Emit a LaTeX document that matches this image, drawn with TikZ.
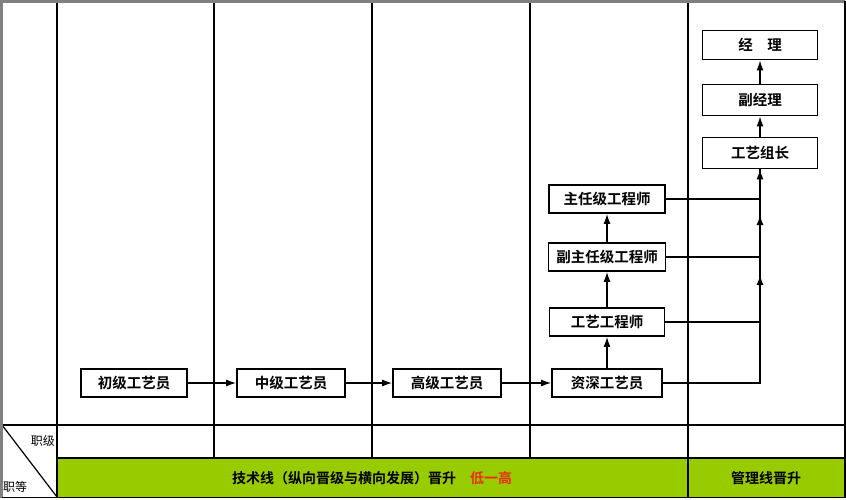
\documentclass[tikz,border=0pt]{standalone}
\usepackage{fontspec}
\usetikzlibrary{arrows.meta}
\setmainfont{Noto Sans CJK SC}[BoldFont={Noto Sans CJK SC Bold}]
\definecolor{lgreen}{RGB}{153,204,0}
\definecolor{lred}{RGB}{235,45,20}
\tikzset{job/.style = {draw, line width = 1.8, fill = white, inner sep = 0,
    minimum height = 28, font = \bfseries\fontsize{14.5}{14.5}\selectfont}}
\tikzset{link/.style = {line width = 1.3, -{Latex[length=10pt, width=7pt]}}}
\tikzset{grid/.style = {line width = 1.2}}

\begin{document}
\begin{tikzpicture}[x=1pt, y=-1pt]
    \useasboundingbox (0, 0) rectangle (846, 500);
    \fill [lgreen] (57, 458) rectangle (845, 497);
    \draw [grid] (2, 425) -- (845, 425);
    \draw [grid] (57, 458) -- (845, 458);
    \foreach \x in {214, 372, 530}
        \draw [grid] (\x, 2) -- (\x, 458);
    \draw [grid] (57, 2) -- (57, 497);
    \draw [grid] (688, 2) -- (688, 497);
    \draw [grid] (2, 425) -- (57, 497);
    \draw [gray, line width = 2.5] (1.5, 497.5) -- (1.5, 1.5) -- (845, 1.5);
    \draw [line width = 1.6] (845, 1.5) -- (845, 497.5) -- (1.5, 497.5);

    \node [job, minimum width = 106] (chuji) at (134, 383) {初级工艺员};
    \node [job, minimum width = 108] (zhongji) at (291, 383) {中级工艺员};
    \node [job, minimum width = 108] (gaoji) at (447, 383) {高级工艺员};
    \node [job, minimum width = 110] (zishen) at (607, 383) {资深工艺员};
    \node [job, minimum width = 115] (gongcheng) at (607, 322) {工艺工程师};
    \node [job, minimum width = 117] (fuzhuren) at (607, 257) {副主任级工程师};
    \node [job, minimum width = 116] (zhuren) at (607, 199) {主任级工程师};
    \node [job, minimum width = 115, minimum height = 31] (zuzhang) at (760, 153) {工艺组长};
    \node [job, minimum width = 115, minimum height = 31] (fujingli) at (760, 100) {副经理};
    \node [job, minimum width = 115, minimum height = 29] (jingli) at (760, 45) {经\quad 理};

    \draw [link] (chuji) -- (zhongji);
    \draw [link] (zhongji) -- (gaoji);
    \draw [link] (gaoji) -- (zishen);
    \draw [link] (zishen) -- (gongcheng);
    \draw [link] (gongcheng) -- (fuzhuren);
    \draw [link] (fuzhuren) -- (zhuren);
    \draw [link] (zuzhang) -- (fujingli);
    \draw [link] (fujingli) -- (jingli);

    \coordinate (up1) at (760, 275);
    \coordinate (up2) at (760, 215);
    \draw [link] (zishen.east) -| (up1);
    \draw [link] (gongcheng.east) -| (up2);
    \draw [link] (fuzhuren.east) -| (zuzhang.south);
    \draw [grid] (zhuren.east) -| (zuzhang.south);

    \node [anchor = east, inner sep = 0, font = \fontsize{12}{12}\selectfont] (zhiji) at (55, 441) {职级};
    \node [anchor = west, inner sep = 0, font = \fontsize{12}{12}\selectfont] (zhideng) at (3, 487) {职等};
    \node [font = \bfseries\fontsize{14}{14}\selectfont] (jishu) at (372, 478)
        {技术线（纵向晋级与横向发展）晋升\quad\textcolor{lred}{低一高}};
    \node [font = \bfseries\fontsize{14}{14}\selectfont] (guanli) at (766, 478) {管理线晋升};
\end{tikzpicture}
\end{document}
